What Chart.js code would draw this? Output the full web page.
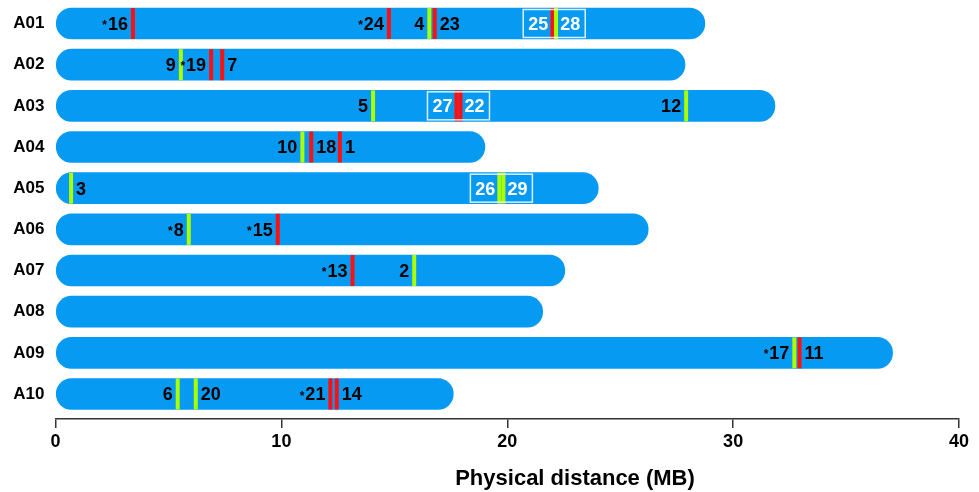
<!DOCTYPE html>
<html>
<head>
<meta charset="utf-8">
<script src="https://cdn.jsdelivr.net/npm/chart.js@4/dist/chart.umd.min.js"></script>
<style>
  html, body { margin: 0; padding: 0; background: #ffffff; }
  #wrap { position: relative; width: 979px; height: 492px; }
</style>
</head>
<body>
<div id="wrap"><canvas id="chart"></canvas></div>
<script>
// Chromosomes and their physical lengths (Mb)
const chromosomes  = ['A01', 'A02', 'A03', 'A04', 'A05', 'A06', 'A07', 'A08', 'A09', 'A10'];
const chromLengths = [28.75, 27.87, 31.85, 19.01, 24.03, 26.24, 22.55, 21.57, 37.06, 17.61];

// x-axis ticks (Mb)
const xTicks = [0, 10, 20, 30, 40];

// Mapped markers: id, chromosome, position (Mb), class, starred, label side
const markerIds   = [16, 24, 4, 23, 25, 28,   9, 19, 7,   5, 27, 22, 12,   10, 18, 1,   3, 26, 29,   8, 15,   13, 2,   17, 11,   6, 20, 21, 14];
const markerChrom = ['A01','A01','A01','A01','A01','A01', 'A02','A02','A02', 'A03','A03','A03','A03', 'A04','A04','A04', 'A05','A05','A05', 'A06','A06', 'A07','A07', 'A09','A09', 'A10','A10','A10','A10'];
const markerPos   = [3.43, 14.76, 16.55, 16.79, 22.00, 22.16,   5.55, 6.89, 7.38,   14.06, 17.75, 17.93, 27.92,   10.93, 11.32, 12.59,   0.69, 19.65, 19.83,   5.90, 9.84,   13.15, 15.88,   32.71, 32.94,   5.41, 6.21, 12.17, 12.45];
const markerClass = ['R','R','G','R','R','G', 'G','R','R', 'G','R','R','G', 'G','R','R', 'G','G','G', 'G','R', 'R','G', 'G','R', 'G','G','R','R'];
const markerStar  = [true,true,false,false,false,false, false,true,false, false,false,false,false, false,false,false, false,false,false, true,true, true,false, true,false, false,false,true,false];
const labelSide   = ['L','L','L','R','L','R', 'L','L','R', 'L','L','R','L', 'L','R','R', 'R','L','R', 'L','L', 'L','L', 'L','R', 'L','R','L','R'];

// Co-located marker pairs shown in a framed box
const boxedPairs = [[25, 28], [27, 22], [26, 29]];

// Styling
const FONT = '"Liberation Sans", Arial, Helvetica, sans-serif';
const BAR_COLOR = '#069af3';
const CLASS_COLORS = { R: '#ff1010', G: '#aaff00' };
const BAR_THICKNESS = 31;
const MARKER_WIDTH = 4;
const LABEL_GAP = 5;
const BOX_WIDTH = 62;
const AXIS_TITLE_AT = 23;   // Mb value under which the axis title is centred
const Y_MIN = -0.571, Y_MAX = 9.607;

function drawLabel(ctx, text, anchorX, cy, side, star, color) {
  ctx.fillStyle = color;
  ctx.font = 'bold 18px ' + FONT;
  ctx.textBaseline = 'alphabetic';
  const w = ctx.measureText(text).width;
  const baseY = cy + 6.4;
  if (side === 'L') {
    ctx.textAlign = 'right';
    ctx.fillText(text, anchorX, baseY);
    if (star) {
      ctx.font = 'bold 12px ' + FONT;
      ctx.fillText('*', anchorX - w - 1, cy + 5.5);
    }
    return;
  }
  let start = anchorX;
  ctx.textAlign = 'left';
  if (star) {
    ctx.font = 'bold 12px ' + FONT;
    ctx.fillText('*', start, cy + 5.5);
    start += ctx.measureText('*').width + 1;
    ctx.font = 'bold 18px ' + FONT;
  }
  ctx.fillText(text, start, baseY);
}

const markerPlugin = {
  id: 'markerPlugin',
  afterDatasetsDraw(chart) {
    const { ctx, scales: { x, y } } = chart;
    const half = BAR_THICKNESS / 2;
    const rowOf = c => y.getPixelForValue(chromosomes.indexOf(c));
    ctx.save();

    // marker lines
    markerIds.forEach((id, i) => {
      const px = x.getPixelForValue(markerPos[i]);
      const py = rowOf(markerChrom[i]);
      ctx.fillStyle = CLASS_COLORS[markerClass[i]];
      ctx.fillRect(px - MARKER_WIDTH / 2, py - half, MARKER_WIDTH, half * 2);
    });

    // framed pairs
    const boxed = new Set(boxedPairs.flat());
    boxedPairs.forEach(([a, b]) => {
      const ia = markerIds.indexOf(a), ib = markerIds.indexOf(b);
      const cx = (x.getPixelForValue(markerPos[ia]) + x.getPixelForValue(markerPos[ib])) / 2;
      const py = rowOf(markerChrom[ia]);
      ctx.strokeStyle = 'rgba(255,255,255,0.85)';
      ctx.lineWidth = 1.5;
      ctx.strokeRect(cx - BOX_WIDTH / 2, py - half + 1.5, BOX_WIDTH, BAR_THICKNESS - 3);
      drawLabel(ctx, String(a), cx - 6, py, 'L', false, '#ffffff');
      drawLabel(ctx, String(b), cx + 6, py, 'R', false, '#ffffff');
    });

    // marker labels
    markerIds.forEach((id, i) => {
      if (boxed.has(id)) return;
      const px = x.getPixelForValue(markerPos[i]);
      const py = rowOf(markerChrom[i]);
      const ax = labelSide[i] === 'L' ? px - LABEL_GAP : px + LABEL_GAP;
      drawLabel(ctx, String(id), ax, py, labelSide[i], markerStar[i], '#000000');
    });

    // axis title
    ctx.fillStyle = '#000000';
    ctx.font = 'bold 22px ' + FONT;
    ctx.textAlign = 'center';
    ctx.textBaseline = 'alphabetic';
    ctx.fillText('Physical distance (MB)', x.getPixelForValue(AXIS_TITLE_AT), 485);
    ctx.restore();
  }
};

new Chart(document.getElementById('chart'), {
  type: 'bar',
  data: {
    datasets: [{
      data: chromLengths.map((len, i) => ({ x: [0, len], y: i })),
      backgroundColor: BAR_COLOR,
      borderWidth: 0,
      borderRadius: 16,
      borderSkipped: false,
      barThickness: BAR_THICKNESS
    }]
  },
  options: {
    indexAxis: 'y',
    responsive: true,
    maintainAspectRatio: false,
    animation: false,
    events: [],
    layout: { padding: { top: 0, right: 20, bottom: 0, left: 0 } },
    plugins: { legend: { display: false }, tooltip: { enabled: false }, title: { display: false } },
    scales: {
      x: {
        type: 'linear',
        position: 'bottom',
        min: 0,
        max: 40,
        afterBuildTicks: s => { s.ticks = xTicks.map(v => ({ value: v })); },
        afterFit: s => { s.height = 73; s.paddingLeft = 0; s.paddingRight = 0; },
        grid: { drawOnChartArea: false, drawTicks: true, tickLength: 9, color: '#333333', lineWidth: 1.5 },
        border: { display: true, color: '#333333', width: 1.5 },
        ticks: { color: '#000000', font: { family: FONT, size: 18, weight: 'bold' }, padding: 3, maxRotation: 0 }
      },
      y: {
        type: 'linear',
        reverse: true,
        offset: false,
        min: Y_MIN,
        max: Y_MAX,
        afterBuildTicks: s => { s.ticks = chromosomes.map((c, i) => ({ value: i })); },
        afterFit: s => { s.width = 55.5; s.paddingTop = 0; s.paddingBottom = 0; },
        grid: { display: false, drawTicks: false, offset: false },
        border: { display: false },
        ticks: {
          color: '#000000',
          font: { family: FONT, size: 17, weight: 'bold' },
          padding: 11,
          callback: v => chromosomes[v]
        }
      }
    }
  },
  plugins: [markerPlugin]
});
</script>
</body>
</html>
